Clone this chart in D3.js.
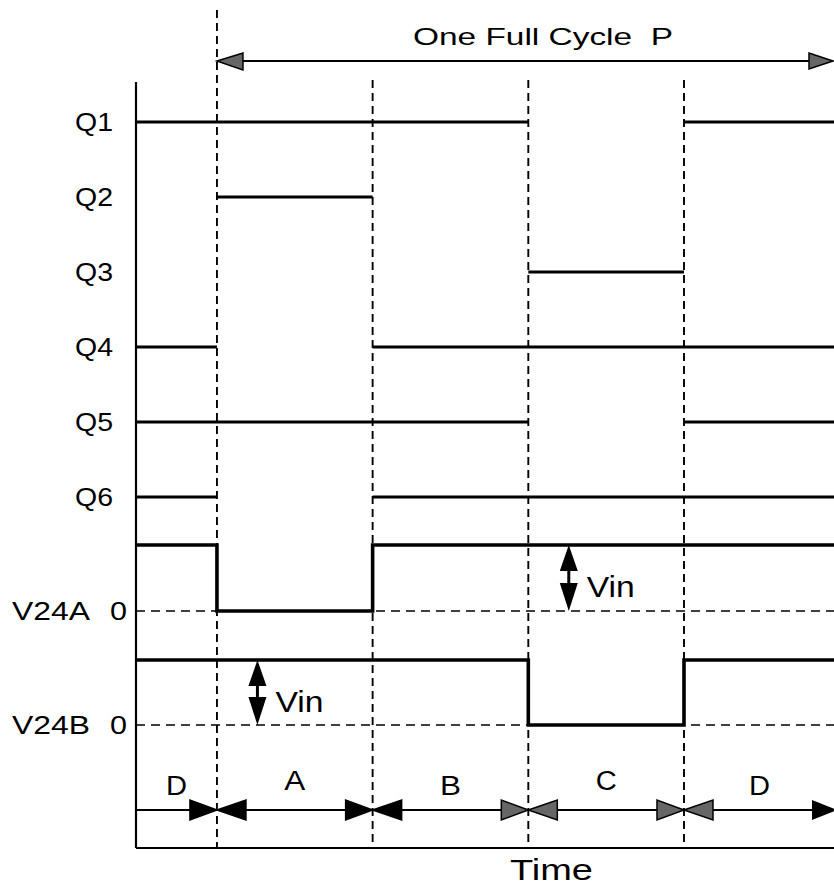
<!DOCTYPE html>
<html><head><meta charset="utf-8">
<script src="https://cdn.jsdelivr.net/npm/d3@7/dist/d3.min.js"></script>
<style>html,body{margin:0;padding:0;background:#fff}svg{display:block}</style>
</head><body>
<script>
// ---- data ----
const phases = ["D", "A", "B", "C", "D"];
const edges = [-0.52, 0, 1, 2, 3, 3.97];      // phase boundaries (time, in quarter-cycles)
const switchNames = ["Q1", "Q2", "Q3", "Q4", "Q5", "Q6"];
const Q1 = [1, 1, 1, 0, 1];
const Q2 = [0, 1, 0, 0, 0];
const Q3 = [0, 0, 0, 1, 0];
const Q4 = [1, 0, 1, 1, 1];
const Q5 = [1, 1, 1, 0, 1];
const Q6 = [1, 0, 1, 1, 1];
const V24A = [1, 0, 1, 1, 1];
const V24B = [1, 1, 1, 0, 1];
const vinAt = [2.26, 0.26];   // time position of Vin arrows for V24A, V24B
const title = "One Full Cycle  P";
const xLabel = "Time";

const W = 834, H = 886;
const svg = d3.select("body").append("svg").attr("width", W).attr("height", H);
const font = "'Liberation Sans', Arial, Helvetica, sans-serif";

const x = d3.scaleLinear().domain([edges[0], edges[edges.length - 1]]).range([136, 835]);
const yQ = d3.scalePoint().domain(switchNames).range([122, 497]);
const yA = d3.scaleLinear().domain([0, 1]).range([611, 545]);
const yB = d3.scaleLinear().domain([0, 1]).range([725, 660]);
const yArrow = 810, yAxis = 848;

// dashed phase boundary lines
const bounds = edges.slice(1, -1);
svg.selectAll("line.vb").data(bounds).join("line")
  .attr("x1", d => x(d)).attr("x2", d => x(d))
  .attr("y1", (d, i) => i === 0 ? 10 : 80).attr("y2", yAxis)
  .attr("stroke", "#000").attr("stroke-width", 1.9).attr("stroke-dasharray", "8,5");

// zero dashed lines
[yA, yB].forEach(s => {
  svg.append("line").attr("x1", x(edges[0])).attr("x2", W)
    .attr("y1", s(0)).attr("y2", s(0))
    .attr("stroke", "#000").attr("stroke-width", 1.7).attr("stroke-dasharray", "9,6");
});

// axes
svg.append("line").attr("x1", x(edges[0])).attr("x2", x(edges[0])).attr("y1", 82).attr("y2", yAxis)
  .attr("stroke", "#000").attr("stroke-width", 2.2);
svg.append("line").attr("x1", x(edges[0])).attr("x2", W).attr("y1", yAxis).attr("y2", yAxis)
  .attr("stroke", "#000").attr("stroke-width", 2.2);

// switch gate signals (high segments)
const Qs = [Q1, Q2, Q3, Q4, Q5, Q6];
Qs.forEach((arr, k) => {
  const name = switchNames[k];
  const segs = [];
  arr.forEach((v, i) => {
    if (!v) return;
    if (segs.length && segs[segs.length - 1][1] === edges[i]) segs[segs.length - 1][1] = edges[i + 1];
    else segs.push([edges[i], edges[i + 1]]);
  });
  svg.selectAll(null).data(segs).join("line")
    .attr("x1", d => x(d[0])).attr("x2", d => x(d[1]))
    .attr("y1", yQ(name)).attr("y2", yQ(name))
    .attr("stroke", "#000").attr("stroke-width", 3.2);
  svg.append("text").attr("x", 94).attr("y", yQ(name) + 9)
    .attr("text-anchor", "middle").attr("font-family", font).attr("font-size", 26)
    .attr("textLength", 38).attr("lengthAdjust", "spacingAndGlyphs").text(name);
});

// voltage step waveforms
function stepPts(arr) {
  const pts = [];
  arr.forEach((v, i) => { pts.push([edges[i], v]); pts.push([edges[i + 1], v]); });
  return pts;
}
[[V24A, yA], [V24B, yB]].forEach(([arr, s]) => {
  svg.append("path")
    .attr("d", d3.line().x(d => x(d[0])).y(d => s(d[1]))(stepPts(arr)))
    .attr("fill", "none").attr("stroke", "#000").attr("stroke-width", 3.6)
    .attr("stroke-linejoin", "miter");
});

// voltage labels
[["V24A", yA], ["V24B", yB]].forEach(([n, s]) => {
  svg.append("text").attr("x", 12).attr("y", s(0) + 9).attr("font-family", font).attr("font-size", 25)
    .attr("textLength", 78).attr("lengthAdjust", "spacingAndGlyphs").text(n);
  svg.append("text").attr("x", 110).attr("y", s(0) + 9).attr("font-family", font).attr("font-size", 25)
    .attr("textLength", 17).attr("lengthAdjust", "spacingAndGlyphs").text("0");
});

// Vin double arrows
[[vinAt[0], yA], [vinAt[1], yB]].forEach(([t, s]) => {
  const cx = x(t), top = s(1), bot = s(0);
  svg.append("line").attr("x1", cx).attr("x2", cx).attr("y1", top + 10).attr("y2", bot - 10)
    .attr("stroke", "#000").attr("stroke-width", 3);
  svg.append("path").attr("d", `M${cx},${top}L${cx - 9},${top + 26}L${cx + 9},${top + 26}Z`).attr("fill", "#000");
  svg.append("path").attr("d", `M${cx},${bot}L${cx - 9},${bot - 28}L${cx + 9},${bot - 28}Z`).attr("fill", "#000");
  svg.append("text").attr("x", cx + 18).attr("y", (top + bot) / 2 + 19)
    .attr("font-family", font).attr("font-size", 29)
    .attr("textLength", 48).attr("lengthAdjust", "spacingAndGlyphs").text("Vin");
});

// one full cycle arrow
const yTop = 61;
svg.append("line").attr("x1", x(0) + 10).attr("x2", x(edges[5]) - 10).attr("y1", yTop).attr("y2", yTop)
  .attr("stroke", "#000").attr("stroke-width", 2);
svg.append("path").attr("d", `M${x(0)},${yTop}L${x(0) + 26},${yTop - 8}L${x(0) + 26},${yTop + 9}Z`)
  .attr("fill", "#666").attr("stroke", "#000").attr("stroke-width", 1.5);
svg.append("path").attr("d", `M${W - 1},${yTop}L${W - 25},${yTop - 8}L${W - 25},${yTop + 8}Z`)
  .attr("fill", "#666").attr("stroke", "#000").attr("stroke-width", 1.5);
svg.append("text").attr("x", 413).attr("y", 45).attr("font-family", font).attr("font-size", 24)
  .attr("textLength", 260).attr("lengthAdjust", "spacingAndGlyphs").attr("xml:space", "preserve").text(title);

// phase interval arrows
svg.append("line").attr("x1", x(edges[0])).attr("x2", W - 10).attr("y1", yArrow).attr("y2", yArrow)
  .attr("stroke", "#000").attr("stroke-width", 2);
const tipFill = ["#000", "#000", "#666", "#666"];
bounds.forEach((b, i) => {
  const cx = x(b);
  svg.append("path").attr("d", `M${cx},${yArrow}L${cx - 27},${yArrow - 10}L${cx - 27},${yArrow + 10}Z`)
    .attr("fill", tipFill[i]).attr("stroke", "#000").attr("stroke-width", 1.5);
  svg.append("path").attr("d", `M${cx},${yArrow}L${cx + 29},${yArrow - 10}L${cx + 29},${yArrow + 10}Z`)
    .attr("fill", tipFill[i]).attr("stroke", "#000").attr("stroke-width", 1.5);
});
svg.append("path").attr("d", `M${W + 3},${yArrow}L${W - 22},${yArrow - 10}L${W - 22},${yArrow + 10}Z`)
  .attr("fill", "#000");

// phase labels
phases.forEach((p, i) => {
  const cx = (x(edges[i]) + x(edges[i + 1])) / 2;
  svg.append("text").attr("x", cx).attr("y", (i % 2 === 0) ? 795 : 790)
    .attr("text-anchor", "middle").attr("font-family", font).attr("font-size", 27)
    .attr("textLength", 21).attr("lengthAdjust", "spacingAndGlyphs").text(p);
});

// x label
svg.append("text").attr("x", 510).attr("y", 880).attr("font-family", font).attr("font-size", 30)
  .attr("textLength", 83).attr("lengthAdjust", "spacingAndGlyphs").text(xLabel);
</script>
</body></html>
